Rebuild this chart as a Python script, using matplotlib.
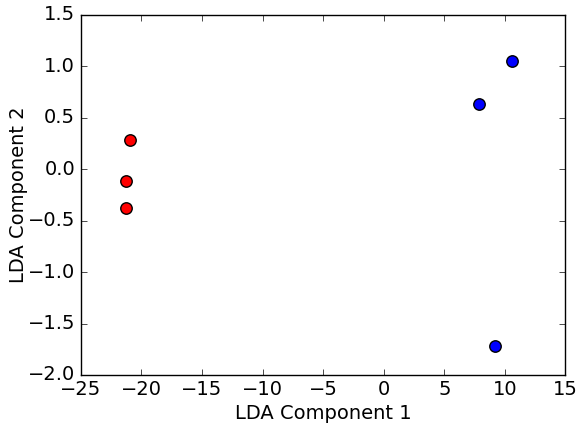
import matplotlib
matplotlib.use("Agg")
import matplotlib.pyplot as plt

plt.style.use('classic')

# LDA projection values
red_x = [-20.95, -21.25, -21.25]
red_y = [0.28, -0.11, -0.38]
blue_x = [10.55, 7.9, 9.2]
blue_y = [1.05, 0.63, -1.72]

fig, ax = plt.subplots(figsize=(5.77, 4.28), dpi=100)
fig.patch.set_facecolor('white')
fig.subplots_adjust(left=0.14, right=0.98, bottom=0.124, top=0.965)

ax.scatter(red_x, red_y, c='red', s=68, edgecolors='black', linewidths=1, zorder=3)
ax.scatter(blue_x, blue_y, c='blue', s=68, edgecolors='black', linewidths=1, zorder=3)

ax.set_xlim(-25, 15)
ax.set_ylim(-2.0, 1.5)
ax.set_xlabel('LDA Component 1', fontsize=14, labelpad=3)
ax.set_ylabel('LDA Component 2', fontsize=14, labelpad=0)
ax.tick_params(labelsize=14)

plt.savefig('out.png', dpi=100, facecolor='white')
